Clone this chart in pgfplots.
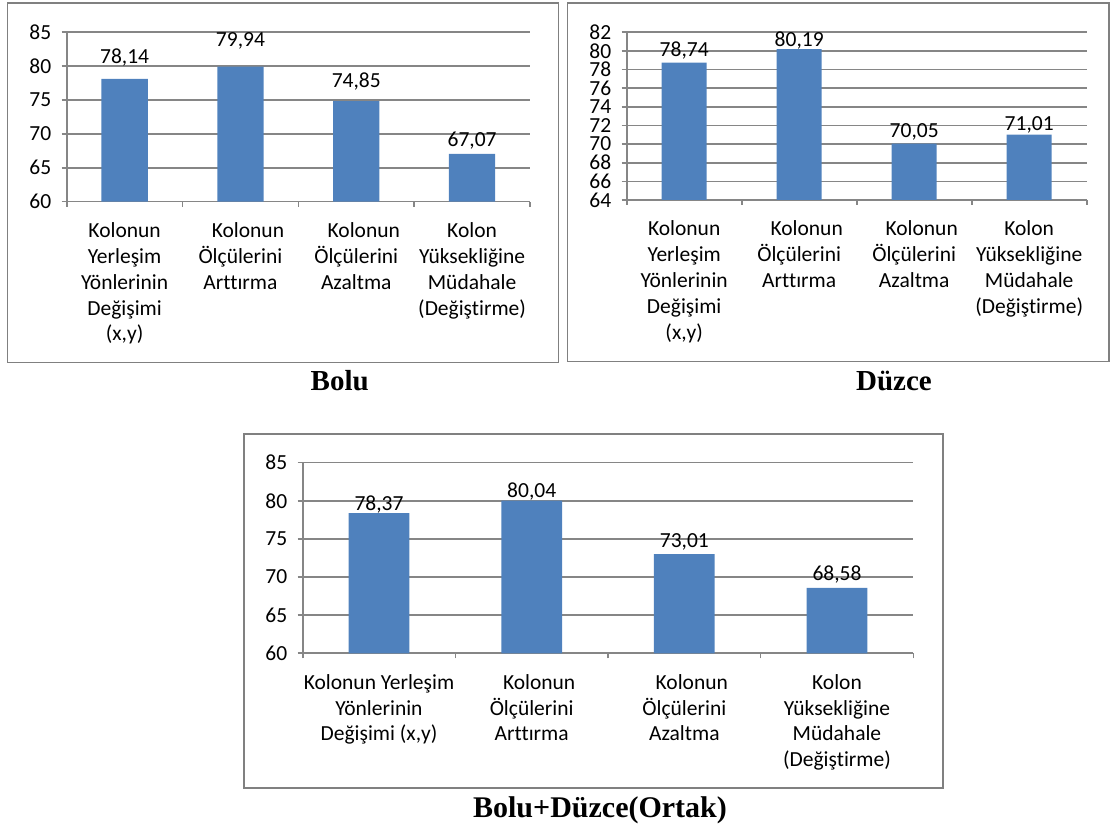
\documentclass[border=0pt]{standalone}
\usepackage{pgfplots}
\pgfplotsset{compat=1.18}
\usepackage{pgfplotstable}
\usepackage{fontspec}
\setmainfont{Carlito}[Ligatures=CommonOff]
\newfontfamily\titlefont{Liberation Serif}

\definecolor{barblue}{HTML}{4F81BD}
\definecolor{gridgray}{HTML}{868686}
\definecolor{framegray}{HTML}{808080}

\newcommand\lbl{\fontsize{21.5}{25.8}\selectfont}
\newcommand\ttl{\titlefont\bfseries\fontsize{29}{34}\selectfont}

% value, printed label, and the label's lift above the bar top (pt)
\pgfplotstableread{
x y lab off
0 78.14 78,14 21.4
1 79.94 79,94 26
2 74.85 74,85 19.5
3 67.07 67,07 13.5
}\boluData

\pgfplotstableread{
x y lab off
0 78.74 78,74 12
1 80.19 80,19 9
2 70.05 70,05 11.6
3 71.01 71,01 9.4
}\duzceData

\pgfplotstableread{
x y lab off
0 78.37 78,37 8.5
1 80.04 80,04 8.5
2 73.01 73,01 12.5
3 68.58 68,58 13.2
}\ortakData

\pgfplotsset{
  colchart/.style={
    scale only axis,
    anchor=south west,
    ybar,
    enlargelimits=false,
    xmin=-0.5, xmax=3.5,
    axis lines=left,
    axis line style={gridgray, line width=1.6pt, -},
    ymajorgrids,
    grid style={gridgray, line width=1.6pt},
    xtick={0,1,2,3},
    minor xtick={-0.5,0.5,1.5,2.5,3.5},
    tick align=outside,
    major tick length=5pt,
    minor tick length=5pt,
    tick style={gridgray, line width=1.6pt},
    major x tick style={draw=none},
    /pgf/number format/assume math mode=true,
    yticklabel style={font=\lbl, xshift=-7pt},
    xticklabel style={font=\lbl, align=center, anchor=north, yshift=-12.5pt},
  },
  colbars/.style={
    fill=barblue, draw=none,
    point meta=explicit symbolic,
    nodes near coords,
    visualization depends on={\thisrow{off} \as \labelshift},
    nodes near coords style={font=\lbl, anchor=center, yshift=\labelshift pt, text=black},
  },
}

\begin{document}
\begin{tikzpicture}
\path (0pt,0pt) rectangle (1110pt,829pt);

% frames around the three charts
\draw[framegray, line width=1.6pt] (7.3pt,826pt) rectangle (558.3pt,466.3pt);
\draw[framegray, line width=1.6pt] (567.3pt,826pt) rectangle (1109pt,467.3pt);
\draw[framegray, line width=1.6pt] (244pt,395pt) rectangle (942.7pt,40.7pt);

% Bolu
\begin{axis}[colchart, at={(66.7pt,627.3pt)}, width=463.3pt, height=169.4pt,
  ymin=60, ymax=85, ytick={60,65,...,85}, bar width=46.3pt,
  xticklabels={{Kolonun\\Yerleşim\\Yönlerinin\\Değişimi\\(x,y)},
               {\hspace*{15pt}Kolonun\\Ölçülerini\\Arttırma},
               {\hspace*{15pt}Kolonun\\Ölçülerini\\Azaltma},
               {Kolon\\Yüksekliğine\\Müdahale\\(Değiştirme)}}]
\addplot[colbars] table[x=x, y=y, meta=lab] {\boluData};
\end{axis}

% Düzce
\begin{axis}[colchart, at={(626.7pt,629pt)}, width=460pt, height=167.7pt,
  ymin=64, ymax=82, ytick={64,66,...,82}, bar width=45pt,
  xticklabels={{Kolonun\\Yerleşim\\Yönlerinin\\Değişimi\\(x,y)},
               {\hspace*{15pt}Kolonun\\Ölçülerini\\Arttırma},
               {\hspace*{15pt}Kolonun\\Ölçülerini\\Azaltma},
               {Kolon\\Yüksekliğine\\Müdahale\\(Değiştirme)}}]
\addplot[colbars] table[x=x, y=y, meta=lab] {\duzceData};
\end{axis}

% Bolu+Düzce
\begin{axis}[colchart, at={(302.7pt,175.7pt)}, width=610.6pt, height=190.6pt,
  ymin=60, ymax=85, ytick={60,65,...,85}, bar width=60.7pt,
  xticklabels={{Kolonun Yerleşim\\Yönlerinin\\Değişimi (x,y)},
               {\hspace*{15pt}Kolonun\\Ölçülerini\\Arttırma},
               {\hspace*{15pt}Kolonun\\Ölçülerini\\Azaltma},
               {Kolon\\Yüksekliğine\\Müdahale\\(Değiştirme)}}]
\addplot[colbars] table[x=x, y=y, meta=lab] {\ortakData};
\end{axis}

% captions
\node[font=\ttl, anchor=base] at (339.7pt,438.3pt) {Bolu};
\node[font=\ttl, anchor=base] at (894pt,438.3pt) {Düzce};
\node[font=\ttl\fontsize{30}{36}\selectfont, anchor=base] at (600pt,11pt) {Bolu+Düzce(Ortak)};
\end{tikzpicture}
\end{document}
